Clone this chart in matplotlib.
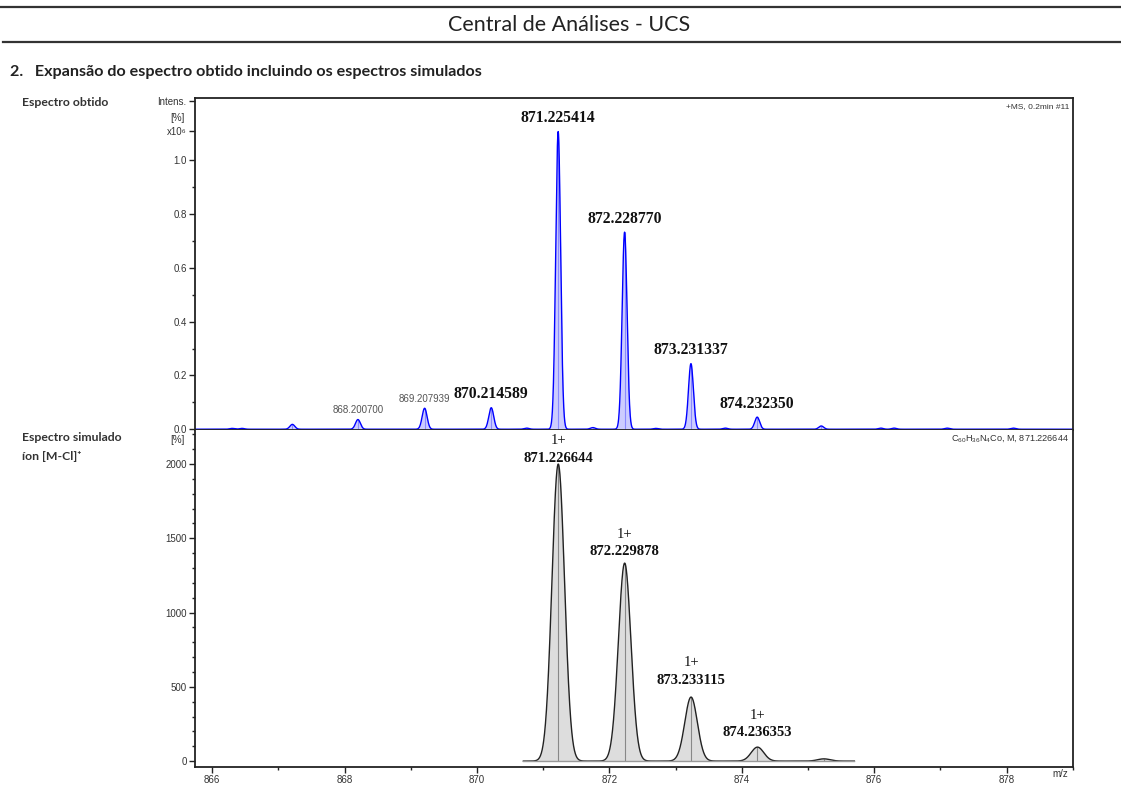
import numpy as np
import matplotlib
matplotlib.use('Agg')
import matplotlib.pyplot as plt
from matplotlib.lines import Line2D
from matplotlib.ticker import MultipleLocator, FixedLocator

plt.rcParams['font.family'] = ['Liberation Sans', 'DejaVu Sans']
plt.rcParams['mathtext.fontset'] = 'custom'
plt.rcParams['mathtext.rm'] = 'Liberation Sans'
plt.rcParams['mathtext.it'] = 'Liberation Sans'

# observed spectrum: peak m/z and intensity (x10^6)
obs_mz = [866.30, 866.45, 867.21, 868.2007, 869.2079, 870.2146, 870.75,
          871.2254, 871.75, 872.2288, 872.70, 873.2313, 873.75, 874.2324,
          875.20, 876.10, 876.30, 877.10, 878.10]
obs_int = [0.003, 0.003, 0.018, 0.036, 0.078, 0.080, 0.004,
           1.107, 0.006, 0.733, 0.003, 0.244, 0.004, 0.045,
           0.012, 0.004, 0.004, 0.004, 0.004]
obs_big_labels = ['870.214589', '871.225414', '872.228770', '873.231337', '874.232350']
obs_small_labels = ['868.200700', '869.207939']

# simulated isotope pattern [M-Cl]+
sim_mz = [871.226644, 872.229878, 873.233115, 874.236353, 875.2396]
sim_int = [2000, 1333, 431, 94, 15]
sim_labels = ['871.226644', '872.229878', '873.233115', '874.236353']

xmin, xmax = 865.74, 879.0


def profile(x, mz, inten, sigma):
    y = np.zeros_like(x)
    for m, h in zip(mz, inten):
        y += h * np.exp(-0.5 * ((x - m) / sigma) ** 2)
    return y


def nearest_int(mz_list, int_list, value):
    i = int(np.argmin(np.abs(np.array(mz_list) - value)))
    return int_list[i]


fig = plt.figure(figsize=(11.21, 7.85), dpi=100)

# page header
fig.add_artist(Line2D([0, 1], [0.991, 0.991], transform=fig.transFigure, color='#333333', lw=1.6))
fig.add_artist(Line2D([0.003, 1], [0.9465, 0.9465], transform=fig.transFigure, color='#333333', lw=1.6))
fig.text(0.508, 0.968, 'Central de Análises - UCS', ha='center', va='center',
         fontsize=15.5, family='Lato', color='#222222')
fig.text(0.009, 0.908, '2.   Expansão do espectro obtido incluindo os espectros simulados',
         ha='left', va='center', fontsize=11.6, family='Lato', fontweight='bold', color='#222222')
fig.text(0.020, 0.869, 'Espectro obtido', ha='left', va='center', fontsize=8.8,
         family='Lato', fontweight='bold', color='#333333')
fig.text(0.020, 0.443, 'Espectro simulado', ha='left', va='center', fontsize=8.8,
         family='Lato', fontweight='bold', color='#333333')
fig.text(0.020, 0.419, 'íon [M-Cl]⁺', ha='left', va='center', fontsize=8.8,
         family=['Lato', 'DejaVu Sans'], fontweight='bold', color='#333333')

ax1 = fig.add_axes([0.174, 0.4522, 0.783, 0.423])
ax2 = fig.add_axes([0.174, 0.0229, 0.783, 0.4293])

# ---- observed spectrum
x1 = np.linspace(xmin, xmax, 8000)
y1 = profile(x1, obs_mz, obs_int, 0.037)
ax1.fill_between(x1, 0, y1, color='#ccccff', lw=0)
ax1.vlines(obs_mz, 0, obs_int, color='#8a8aff', lw=0.8)
ax1.plot(x1, y1, color='#0000ff', lw=1.0)
for lab in obs_big_labels:
    m = float(lab)
    h = nearest_int(obs_mz, obs_int, m)
    ax1.annotate(lab, (m, h), xytext=(0, 4), textcoords='offset points',
                 ha='center', va='bottom', fontsize=11.3, family='Liberation Serif',
                 fontweight='bold', color='#111111')
for lab in obs_small_labels:
    m = float(lab)
    h = nearest_int(obs_mz, obs_int, m)
    ax1.annotate(lab, (m, h), xytext=(0, 3), textcoords='offset points',
                 ha='center', va='bottom', fontsize=7, color='#555555')

ax1.set_xlim(xmin, xmax)
ax1.set_ylim(-0.003, 1.232)
ax1.tick_params(axis='x', bottom=False, labelbottom=False)
ax1.yaxis.set_major_locator(FixedLocator([0, 0.2, 0.4, 0.6, 0.8, 1.0, 1.11, 1.222]))
ax1.set_yticklabels(['0.0', '0.2', '0.4', '0.6', '0.8', '1.0', 'x10⁶', 'Intens.'])
ax1.yaxis.set_minor_locator(FixedLocator([0.1, 0.3, 0.5, 0.7, 0.9]))
ax1.text(-0.012, 0.94, '[%]', transform=ax1.transAxes, ha='right', va='center',
         fontsize=7, color='#333333')
ax1.text(0.996, 0.985, '+MS, 0.2min #11', transform=ax1.transAxes, ha='right', va='top',
         fontsize=6, color='#333333')

# ---- simulated spectrum
x2 = np.linspace(870.7, 875.7, 3000)
y2 = profile(x2, sim_mz, sim_int, 0.095)
ax2.fill_between(x2, 0, y2, color='#dddddd', lw=0)
ax2.vlines(sim_mz, 0, sim_int, color='#888888', lw=0.8)
ax2.plot(x2, y2, color='#222222', lw=1.0)
ax2.plot([870.7, 875.7], [0, 0], color='#999999', lw=1.0)
label_offsets = [-0.5, 3.5, 7.5, 5.5]
for lab, off in zip(sim_labels, label_offsets):
    m = float(lab)
    h = nearest_int(sim_mz, sim_int, m)
    ax2.annotate(lab, (m, h), xytext=(0, off), textcoords='offset points',
                 ha='center', va='bottom', fontsize=10.5, family='Liberation Serif',
                 fontweight='bold', color='#111111')
    ax2.annotate('1+', (m, h), xytext=(0, off + 12.5), textcoords='offset points',
                 ha='center', va='bottom', fontsize=10.5, family='Liberation Serif',
                 color='#111111')

ax2.set_xlim(xmin, xmax)
ax2.set_ylim(-40, 2229)
ax2.xaxis.set_major_locator(MultipleLocator(2))
ax2.xaxis.set_minor_locator(MultipleLocator(1))
ax2.yaxis.set_major_locator(MultipleLocator(500))
ax2.yaxis.set_minor_locator(MultipleLocator(100))
ax2.text(-0.012, 0.971, '[%]', transform=ax2.transAxes, ha='right', va='center',
         fontsize=7, color='#333333')
ax2.text(0.986, -0.022, 'm/z', transform=ax2.transAxes, ha='center', va='center',
         fontsize=7, color='#333333')
ax2.text(0.996, 0.99, r'C$_{60}$H$_{36}$N$_{4}$Co, M, 871.226644', transform=ax2.transAxes,
         ha='right', va='top', fontsize=6.6, color='#333333')

for ax in (ax1, ax2):
    for s in ax.spines.values():
        s.set_color('#222222')
        s.set_linewidth(1.3)
    ax.tick_params(which='major', direction='out', length=4, width=1, colors='#222222',
                   labelsize=7, labelcolor='#333333', pad=2)
    ax.tick_params(which='minor', direction='out', length=2.5, width=1, colors='#222222')
ax2.spines['top'].set_visible(False)

plt.savefig('out.png', dpi=100)
plt.close()
